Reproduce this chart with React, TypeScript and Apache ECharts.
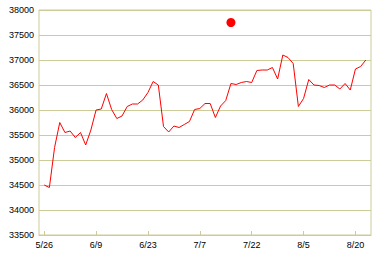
import React, { useEffect, useRef } from "react";
import * as echarts from "echarts";

const values: number[] = [
  34500, 34450, 35250, 35750, 35550, 35580, 35450, 35550, 35300, 35600,
  36000, 36020, 36330, 36010, 35830, 35880, 36070, 36120, 36120, 36200,
  36350, 36570, 36500, 35670, 35560, 35680, 35650, 35710, 35770, 36010,
  36030, 36130, 36130, 35850, 36080, 36190, 36530, 36510, 36550, 36570,
  36550, 36790, 36800, 36800, 36850, 36620, 37100, 37050, 36930, 36070,
  36230, 36610, 36500, 36490, 36450, 36500, 36500, 36420, 36530, 36400,
  36820, 36870, 37000,
];
const tickIndices: number[] = [0, 10, 20, 30, 40, 50, 60];
const tickLabels: string[] = ["5/26", "6/9", "6/23", "7/7", "7/22", "8/5", "8/20"];
const markerPoint: [number, number] = [36, 37750];
const yMin = 33500;
const yMax = 38000;
const yStep = 500;

export default function App() {
  const ref = useRef<HTMLDivElement>(null);
  useEffect(() => {
    if (!ref.current) return;
    const chart = echarts.init(ref.current, null, { renderer: "svg" });
    const gridColor = "#cccc99";
    const font = { fontFamily: "Liberation Sans", fontSize: 9, color: "#000" };
    chart.setOption({
      animation: false,
      backgroundColor: "#fff",
      grid: {
        left: 39,
        right: 11,
        top: 10,
        bottom: 23,
        show: true,
        borderColor: gridColor,
        borderWidth: 1,
      },
      xAxis: {
        type: "value",
        min: -1,
        max: values.length,
        axisLine: { show: true, lineStyle: { color: gridColor } },
        axisTick: {
          show: true,
          inside: true,
          length: 4,
          customValues: tickIndices,
          lineStyle: { color: gridColor },
        },
        axisLabel: {
          ...font,
          margin: 5,
          customValues: tickIndices,
          formatter: (v: number) => {
            const i = tickIndices.indexOf(Math.round(v));
            return i >= 0 ? tickLabels[i] : "";
          },
        },
        splitLine: { show: false },
      },
      yAxis: {
        type: "value",
        min: yMin,
        max: yMax,
        interval: yStep,
        axisLine: { show: false },
        axisTick: { show: false },
        axisLabel: { ...font, margin: 5, formatter: (v: number) => String(v) },
        splitLine: { show: true, lineStyle: { color: gridColor, width: 1 } },
      },
      series: [
        {
          type: "line",
          data: values.map((v, i) => [i, v]),
          showSymbol: false,
          symbol: "none",
          lineStyle: { color: "#ff0000", width: 1 },
          itemStyle: { color: "#ff0000" },
        },
        {
          type: "scatter",
          data: [markerPoint],
          symbolSize: 9,
          itemStyle: { color: "#ff0000", opacity: 1 },
        },
      ],
    });
    return () => chart.dispose();
  }, []);
  return (
    <div
      ref={ref}
      style={{ position: "absolute", left: 0, top: 0, width: 382, height: 258 }}
    />
  );
}
